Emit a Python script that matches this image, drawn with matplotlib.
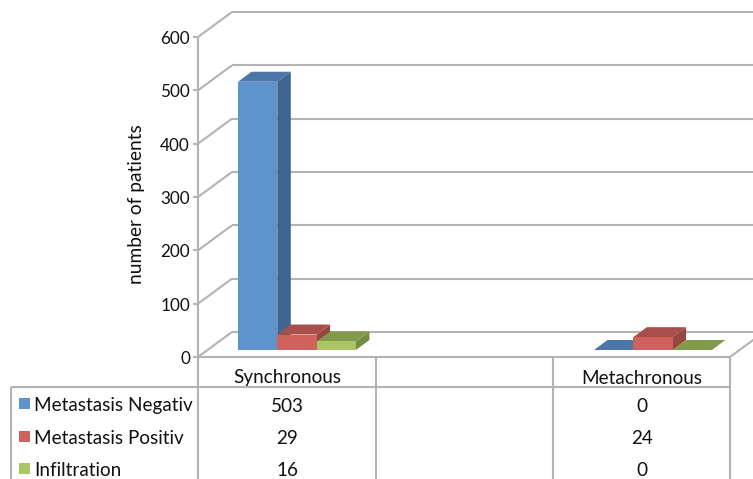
import matplotlib
matplotlib.use("Agg")
import matplotlib.pyplot as plt
from matplotlib.patches import Polygon, Rectangle

plt.rcParams['font.family'] = ['Lato', 'DejaVu Sans']

categories = ["Synchronous", "Metachronous"]
series_names = ["Metastasis Negativ", "Metastasis Positiv", "Infiltration"]
synchronous = [503, 29, 16]
metachronous = [0, 24, 0]
y_ticks = [0, 100, 200, 300, 400, 500, 600]

front_colors = ["#5E94CB", "#CF625D", "#A9C566"]
top_colors = ["#4A76A8", "#A84F4B", "#80994B"]
side_colors = ["#3F6692", "#96453F", "#748C42"]
GRID = "#B3B3B3"

# the whole figure is one axes in pixels, values go through to_y
fig = plt.figure(figsize=(7.53, 4.79), dpi=100)
ax = fig.add_axes([0, 0, 1, 1])
ax.set_xlim(0, 753)
ax.set_ylim(479, 0)
ax.axis("off")

AXIS_X = 198
BASE_Y = 357
PX_PER_UNIT = 320 / 600
WALL_DX, WALL_DY = 34, -25
BAR_DX, BAR_DY = 13.5, -10
BAR_BASE = 350
BAR_W = 39.3
TABLE_COLS = [198, 376, 553, 730]
TABLE_TOP = 387
ROW_Y = [406, 439, 471]


def to_y(value):
    return BASE_Y - value * PX_PER_UNIT


def line(xs, ys, z=1):
    ax.plot(xs, ys, color=GRID, lw=1.5, zorder=z, solid_capstyle="butt", clip_on=True)


for tick in y_ticks:
    y = to_y(tick)
    line([AXIS_X, AXIS_X + WALL_DX], [y, y + WALL_DY])
    line([AXIS_X + WALL_DX, 753], [y + WALL_DY, y + WALL_DY])
    line([AXIS_X - 5, AXIS_X], [y, y])
    ax.text(AXIS_X - 8, y + 2, str(tick), ha="right", va="center", fontsize=12.3, color="#111111")
line([AXIS_X, AXIS_X], [to_y(600), BASE_Y])

# floor front edge and right edge
line([AXIS_X, TABLE_COLS[-1]], [BASE_Y, BASE_Y], z=1)
line([TABLE_COLS[-1], TABLE_COLS[-1] + WALL_DX], [BASE_Y, BASE_Y + WALL_DY])

ax.text(137, 204, "number of patients", rotation=90, ha="center", va="center",
        fontsize=13.8, color="#111111")


def draw_bar(x0, value, i):
    top = BAR_BASE - value * PX_PER_UNIT
    x1 = x0 + BAR_W
    if value > 0:
        ax.add_patch(Polygon([(x1, BAR_BASE), (x1 + BAR_DX, BAR_BASE + BAR_DY),
                              (x1 + BAR_DX, top + BAR_DY), (x1, top)],
                             facecolor=side_colors[i], edgecolor="none", zorder=3))
    ax.add_patch(Polygon([(x0, top), (x1, top), (x1 + BAR_DX, top + BAR_DY), (x0 + BAR_DX, top + BAR_DY)],
                         facecolor=top_colors[i], edgecolor="none", zorder=3))
    if value > 0:
        ax.add_patch(Rectangle((x0, top), BAR_W, value * PX_PER_UNIT,
                               facecolor=front_colors[i], edgecolor="none", zorder=4))


for start, values in zip([238, 594], [synchronous, metachronous]):
    for i, value in enumerate(values):
        draw_bar(start + i * BAR_W, value, i)

# data table
line([11, TABLE_COLS[-1]], [TABLE_TOP, TABLE_TOP])
line([11, 11], [TABLE_TOP, 479])
for col in TABLE_COLS:
    line([col, col], [BASE_Y, 479])

centers = [287, 642]
for cx, name, values in zip(centers, categories, [synchronous, metachronous]):
    ax.text(cx, 378, name, ha="center", va="center", fontsize=13.6, color="#111111")
    for y, value in zip(ROW_Y, values):
        ax.text(cx, y, str(value), ha="center", va="center", fontsize=13.6, color="#111111")

for y, name, color in zip(ROW_Y, series_names, front_colors):
    ax.add_patch(Rectangle((19, y - 8), 11, 11, facecolor=color, edgecolor="none", zorder=4))
    ax.text(34, y, name, ha="left", va="center", fontsize=13.6, color="#111111")

fig.savefig("out.png", dpi=100)
